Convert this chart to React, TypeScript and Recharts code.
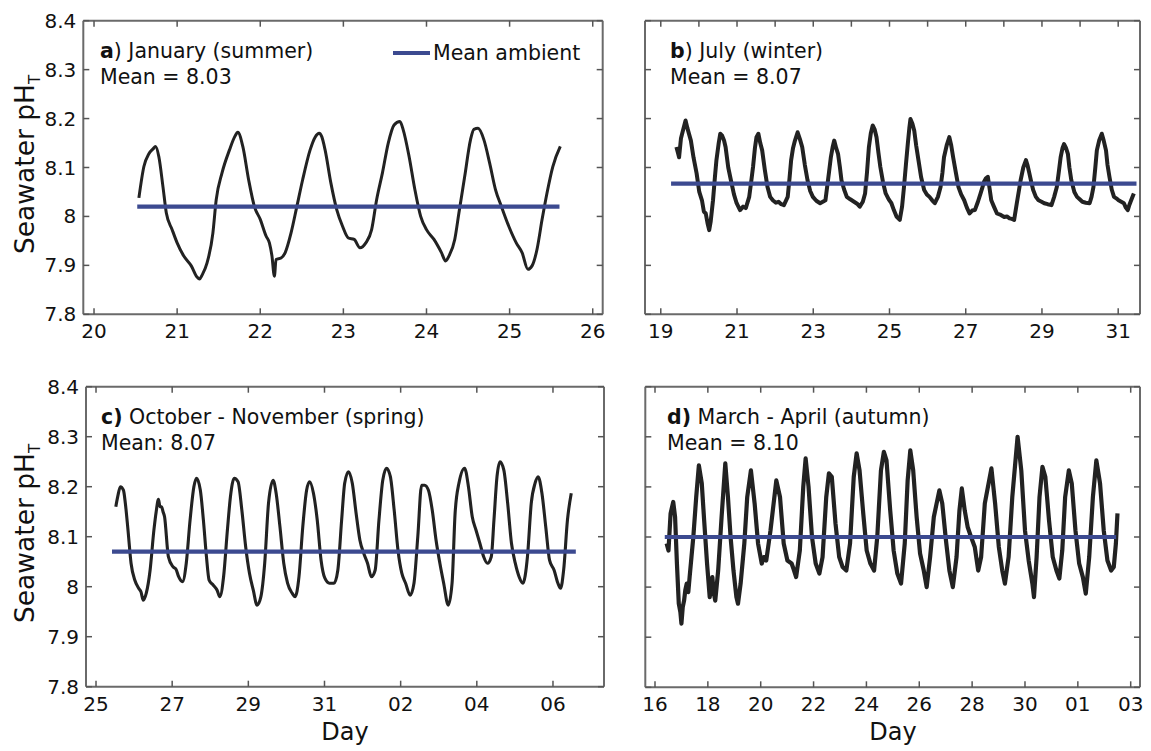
import React from 'react';
import { LineChart, Line, XAxis, YAxis } from 'recharts';

const FONT = "'DejaVu Sans', 'Liberation Sans', sans-serif";
const INK = '#222222';
const MEAN_BLUE = '#3c4a90';
const FRAME = '#6a6a6a';
const TICK_INK = '#555555';

// ---------------- data ----------------
const yTicks = [7.8, 7.9, 8.0, 8.1, 8.2, 8.3, 8.4];
const yTickLabels = ['7.8', '7.9', '8', '8.1', '8.2', '8.3', '8.4'];

// (a) January (summer)
const aDays = [20.54, 20.6, 20.66, 20.71, 20.74, 20.78, 20.83, 20.87, 20.94, 21.0, 21.08, 21.17, 21.24, 21.27, 21.3, 21.36, 21.43, 21.47, 21.54, 21.63, 21.69, 21.73, 21.79, 21.86, 21.93, 22.0, 22.07, 22.11, 22.14, 22.17, 22.19, 22.25, 22.3, 22.37, 22.44, 22.51, 22.6, 22.66, 22.71, 22.74, 22.78, 22.85, 22.92, 22.99, 23.06, 23.13, 23.2, 23.27, 23.34, 23.4, 23.47, 23.54, 23.61, 23.68, 23.72, 23.79, 23.86, 23.93, 24.0, 24.09, 24.18, 24.23, 24.27, 24.34, 24.39, 24.46, 24.53, 24.57, 24.62, 24.69, 24.76, 24.83, 24.9, 24.99, 25.08, 25.15, 25.22, 25.27, 25.33, 25.39, 25.45, 25.52, 25.61];
const aPH = [8.038, 8.102, 8.128, 8.138, 8.143, 8.122, 8.06, 8.007, 7.973, 7.946, 7.919, 7.899, 7.876, 7.872, 7.88, 7.905, 7.966, 8.034, 8.089, 8.136, 8.162, 8.172, 8.143, 8.075, 8.02, 7.994, 7.96, 7.946, 7.92, 7.878, 7.912, 7.915, 7.926, 7.966, 8.02, 8.075, 8.136, 8.162, 8.17, 8.163, 8.136, 8.068, 8.014, 7.98, 7.956, 7.953, 7.936, 7.946, 7.973, 8.034, 8.089, 8.15, 8.187, 8.194, 8.177, 8.123, 8.055, 8.0, 7.973, 7.953, 7.926, 7.909, 7.919, 7.953, 8.007, 8.082, 8.157, 8.178, 8.18, 8.157, 8.109, 8.055, 8.021, 7.98, 7.946, 7.926, 7.892, 7.899, 7.933, 7.993, 8.048, 8.102, 8.143];
const aMeanDays = [20.52, 25.6];
const aMean = 8.02;
const aTicks = [20, 21, 22, 23, 24, 25, 26];
const aTickLabels = ['20', '21', '22', '23', '24', '25', '26'];

// (b) July (winter)
const bDays = [19.41, 19.45, 19.48, 19.53, 19.58, 19.65, 19.7, 19.79, 19.86, 19.94, 20.01, 20.08, 20.13, 20.18, 20.23, 20.27, 20.31, 20.37, 20.42, 20.46, 20.52, 20.56, 20.61, 20.66, 20.7, 20.77, 20.84, 20.92, 20.99, 21.08, 21.16, 21.23, 21.32, 21.37, 21.42, 21.47, 21.51, 21.56, 21.61, 21.66, 21.73, 21.8, 21.87, 21.94, 22.02, 22.09, 22.16, 22.23, 22.33, 22.38, 22.42, 22.47, 22.52, 22.59, 22.65, 22.71, 22.78, 22.85, 22.92, 22.99, 23.08, 23.18, 23.25, 23.32, 23.41, 23.46, 23.51, 23.55, 23.6, 23.65, 23.7, 23.74, 23.81, 23.88, 23.97, 24.07, 24.15, 24.22, 24.3, 24.36, 24.41, 24.46, 24.51, 24.56, 24.61, 24.66, 24.71, 24.76, 24.83, 24.9, 24.98, 25.05, 25.12, 25.19, 25.27, 25.33, 25.38, 25.43, 25.48, 25.52, 25.55, 25.6, 25.65, 25.7, 25.76, 25.83, 25.91, 25.98, 26.05, 26.12, 26.19, 26.27, 26.34, 26.39, 26.43, 26.5, 26.57, 26.62, 26.67, 26.74, 26.81, 26.88, 26.96, 27.03, 27.1, 27.17, 27.24, 27.32, 27.39, 27.44, 27.48, 27.53, 27.58, 27.62, 27.67, 27.74, 27.82, 27.92, 28.01, 28.08, 28.15, 28.21, 28.27, 28.34, 28.4, 28.44, 28.51, 28.58, 28.62, 28.67, 28.72, 28.77, 28.84, 28.91, 28.99, 29.06, 29.15, 29.25, 29.32, 29.39, 29.44, 29.49, 29.54, 29.58, 29.63, 29.68, 29.72, 29.77, 29.85, 29.92, 29.99, 30.06, 30.15, 30.25, 30.3, 30.35, 30.4, 30.44, 30.5, 30.57, 30.62, 30.68, 30.72, 30.77, 30.83, 30.89, 30.95, 31.01, 31.08, 31.15, 31.2, 31.25, 31.3, 31.34, 31.41];
const bPH = [8.142, 8.13, 8.121, 8.16, 8.175, 8.196, 8.18, 8.155, 8.12, 8.088, 8.05, 8.033, 8.01, 8.006, 7.985, 7.972, 7.99, 8.033, 8.08, 8.115, 8.15, 8.169, 8.165, 8.155, 8.142, 8.1, 8.074, 8.045, 8.027, 8.013, 8.02, 8.017, 8.04, 8.07, 8.101, 8.14, 8.162, 8.169, 8.15, 8.135, 8.095, 8.06, 8.04, 8.033, 8.028, 8.03, 8.025, 8.023, 8.04, 8.08, 8.115, 8.14, 8.155, 8.172, 8.158, 8.142, 8.105, 8.074, 8.052, 8.04, 8.032, 8.027, 8.03, 8.033, 8.088, 8.12, 8.142, 8.155, 8.14, 8.128, 8.1, 8.074, 8.055, 8.04, 8.035, 8.03, 8.026, 8.02, 8.03, 8.047, 8.09, 8.142, 8.17, 8.186, 8.178, 8.162, 8.13, 8.101, 8.07, 8.047, 8.035, 8.027, 8.012, 7.999, 7.993, 8.02, 8.06, 8.105, 8.148, 8.18, 8.199, 8.19, 8.175, 8.145, 8.115, 8.08, 8.054, 8.045, 8.04, 8.033, 8.027, 8.04, 8.06, 8.09, 8.121, 8.145, 8.162, 8.145, 8.121, 8.09, 8.06, 8.045, 8.033, 8.018, 8.006, 8.012, 8.013, 8.03, 8.047, 8.06, 8.071, 8.078, 8.081, 8.06, 8.033, 8.02, 8.006, 8.003, 7.999, 8.0, 7.996, 7.995, 7.993, 8.027, 8.055, 8.074, 8.1, 8.115, 8.105, 8.088, 8.07, 8.054, 8.04, 8.033, 8.03, 8.027, 8.025, 8.023, 8.04, 8.06, 8.09, 8.121, 8.14, 8.148, 8.14, 8.128, 8.1, 8.074, 8.05, 8.04, 8.035, 8.03, 8.028, 8.027, 8.04, 8.06, 8.1, 8.135, 8.155, 8.169, 8.155, 8.135, 8.105, 8.081, 8.055, 8.04, 8.037, 8.033, 8.03, 8.027, 8.018, 8.013, 8.025, 8.033, 8.047];
const bMeanDays = [19.27, 31.48];
const bMean = 8.067;
const bTicks = [19, 21, 23, 25, 27, 29, 31];
const bTickLabels = ['19', '21', '23', '25', '27', '29', '31'];
const bTopTicks = [19, 20, 21, 22, 23, 24, 25, 26, 27, 28, 29, 30, 31];

// (c) October - November (spring); days after 31 belong to November
const cDays = [25.52, 25.57, 25.64, 25.72, 25.77, 25.84, 25.92, 26.02, 26.12, 26.18, 26.24, 26.32, 26.42, 26.52, 26.58, 26.64, 26.68, 26.72, 26.76, 26.8, 26.9, 27.02, 27.1, 27.17, 27.27, 27.37, 27.47, 27.57, 27.64, 27.74, 27.82, 27.9, 27.97, 28.08, 28.18, 28.25, 28.35, 28.45, 28.53, 28.63, 28.73, 28.83, 28.93, 29.03, 29.13, 29.23, 29.33, 29.43, 29.53, 29.65, 29.73, 29.83, 29.93, 30.03, 30.15, 30.23, 30.33, 30.43, 30.53, 30.61, 30.71, 30.81, 30.91, 31.01, 31.13, 31.25, 31.35, 31.45, 31.53, 31.63, 31.73, 31.83, 31.93, 32.03, 32.13, 32.23, 32.33, 32.43, 32.53, 32.63, 32.73, 32.83, 32.93, 33.03, 33.13, 33.25, 33.35, 33.45, 33.55, 33.63, 33.73, 33.83, 33.93, 34.03, 34.13, 34.25, 34.35, 34.43, 34.53, 34.68, 34.78, 34.88, 34.98, 35.08, 35.18, 35.28, 35.38, 35.45, 35.53, 35.61, 35.71, 35.81, 35.91, 36.01, 36.11, 36.21, 36.33, 36.43, 36.53, 36.61, 36.71, 36.81, 36.91, 37.03, 37.13, 37.2, 37.28, 37.38, 37.48];
const cPH = [8.16, 8.18, 8.2, 8.193, 8.167, 8.113, 8.047, 8.013, 7.997, 7.99, 7.973, 7.987, 8.033, 8.113, 8.15, 8.175, 8.16, 8.16, 8.15, 8.14, 8.06, 8.04, 8.035, 8.02, 8.01, 8.047, 8.133, 8.2, 8.217, 8.193, 8.133, 8.06, 8.013, 8.003, 7.993, 7.98, 8.02, 8.113, 8.18, 8.217, 8.21, 8.153, 8.08, 8.027, 7.993, 7.963, 7.98, 8.047, 8.167, 8.213, 8.187, 8.12, 8.047, 8.007, 7.987, 7.98, 8.02, 8.12, 8.193, 8.21, 8.187, 8.133, 8.053, 8.017, 8.007, 8.007, 8.033, 8.133, 8.207, 8.23, 8.207, 8.147, 8.093, 8.067, 8.047, 8.02, 8.033, 8.133, 8.213, 8.237, 8.22, 8.153, 8.073, 8.027, 8.007, 7.983, 8.007, 8.1, 8.203, 8.203, 8.193, 8.153, 8.093, 8.047, 8.007, 7.963, 8.007, 8.147, 8.207, 8.237, 8.2, 8.14, 8.113, 8.087, 8.06, 8.047, 8.06, 8.133, 8.22, 8.25, 8.233, 8.167, 8.087, 8.047, 8.02, 8.007, 8.06, 8.167, 8.207, 8.22, 8.187, 8.12, 8.053, 8.033, 8.007, 7.997, 8.033, 8.133, 8.187];
const cMeanDays = [25.42, 37.6];
const cMean = 8.07;
const cTicks = [25, 27, 29, 31, 33, 35, 37];
const cTickLabels = ['25', '27', '29', '31', '02', '04', '06'];

// (d) March - April (autumn); days after 31 belong to April
const dDays = [16.44, 16.51, 16.59, 16.69, 16.76, 16.83, 16.9, 16.96, 17.0, 17.05, 17.1, 17.15, 17.2, 17.26, 17.31, 17.38, 17.45, 17.56, 17.66, 17.77, 17.86, 17.97, 18.07, 18.12, 18.17, 18.22, 18.28, 18.33, 18.39, 18.52, 18.66, 18.76, 18.86, 18.97, 19.08, 19.14, 19.24, 19.38, 19.49, 19.63, 19.77, 19.9, 20.04, 20.12, 20.21, 20.37, 20.59, 20.73, 20.87, 21.01, 21.17, 21.25, 21.34, 21.48, 21.61, 21.7, 21.81, 21.94, 22.08, 22.22, 22.34, 22.48, 22.58, 22.69, 22.83, 22.97, 23.1, 23.24, 23.38, 23.52, 23.63, 23.74, 23.88, 24.01, 24.15, 24.29, 24.41, 24.55, 24.66, 24.76, 24.9, 25.03, 25.17, 25.31, 25.45, 25.56, 25.66, 25.77, 25.9, 26.03, 26.17, 26.28, 26.41, 26.55, 26.76, 26.87, 27.01, 27.14, 27.27, 27.41, 27.52, 27.61, 27.72, 27.83, 27.96, 28.1, 28.23, 28.34, 28.48, 28.73, 28.87, 29.01, 29.14, 29.24, 29.38, 29.52, 29.72, 29.86, 30.0, 30.14, 30.28, 30.34, 30.44, 30.55, 30.66, 30.77, 30.91, 31.05, 31.19, 31.3, 31.41, 31.52, 31.66, 31.77, 31.91, 32.05, 32.19, 32.3, 32.43, 32.57, 32.7, 32.84, 32.98, 33.12, 33.26, 33.36, 33.44, 33.5];
const dPH = [8.087, 8.073, 8.147, 8.17, 8.14, 8.047, 7.967, 7.95, 7.927, 7.96, 7.973, 7.995, 8.007, 7.99, 8.02, 8.06, 8.1, 8.18, 8.243, 8.207, 8.133, 8.047, 7.98, 8.0, 8.02, 7.99, 7.973, 8.0, 8.033, 8.14, 8.247, 8.18, 8.1, 8.033, 7.98, 7.967, 8.007, 8.087, 8.18, 8.233, 8.167, 8.087, 8.047, 8.06, 8.053, 8.113, 8.213, 8.18, 8.087, 8.053, 8.047, 8.035, 8.02, 8.073, 8.2, 8.257, 8.2, 8.1, 8.047, 8.027, 8.06, 8.18, 8.227, 8.22, 8.127, 8.06, 8.04, 8.033, 8.087, 8.22, 8.267, 8.233, 8.147, 8.073, 8.047, 8.033, 8.1, 8.233, 8.27, 8.253, 8.153, 8.073, 8.027, 8.007, 8.087, 8.213, 8.273, 8.233, 8.14, 8.067, 8.033, 8.0, 8.06, 8.14, 8.193, 8.167, 8.093, 8.033, 8.0, 8.06, 8.153, 8.197, 8.153, 8.12, 8.1, 8.08, 8.033, 8.06, 8.167, 8.237, 8.167, 8.08, 8.033, 8.007, 8.06, 8.18, 8.3, 8.233, 8.113, 8.053, 8.007, 7.98, 8.06, 8.18, 8.24, 8.22, 8.133, 8.06, 8.033, 8.017, 8.073, 8.18, 8.233, 8.207, 8.113, 8.047, 8.02, 7.987, 8.06, 8.18, 8.253, 8.207, 8.113, 8.053, 8.033, 8.04, 8.087, 8.147];
const dMeanDays = [16.37, 33.45];
const dMean = 8.1;
const dTicks = [16, 18, 20, 22, 24, 26, 28, 30, 32, 34];
const dTickLabels = ['16', '18', '20', '22', '24', '26', '28', '30', '01', '03'];

// ---------------- helpers ----------------
const toRows = (days: number[], vals: number[]) => days.map((d, i) => ({ day: d, ph: vals[i] }));
const meanRows = (days: number[], v: number) => days.map((d) => ({ day: d, ph: v }));

const TICK_LEN = 6;
const tickText = { fontFamily: FONT, fontSize: 20, fill: '#111' } as const;

const bottomTick = (labels: string[] | null) => (p: any) => {
  const { x, y, index } = p;
  const lab = labels ? labels[index] : null;
  return (
    <g>
      <line x1={x} x2={x} y1={y} y2={y - TICK_LEN} stroke={TICK_INK} strokeWidth={1.5} />
      {lab != null && (
        <text x={x} y={y + 24} textAnchor="middle" style={tickText}>
          {lab}
        </text>
      )}
    </g>
  );
};
const topTick = (p: any) => (
  <line x1={p.x} x2={p.x} y1={p.y} y2={p.y + TICK_LEN} stroke={TICK_INK} strokeWidth={1.5} />
);
const leftTick = (labels: string[] | null) => (p: any) => {
  const { x, y, index } = p;
  const lab = labels ? labels[index] : null;
  return (
    <g>
      <line x1={x} x2={x + TICK_LEN} y1={y} y2={y} stroke={TICK_INK} strokeWidth={1.5} />
      {lab != null && (
        <text x={x - 7} y={y + 7} textAnchor="end" style={tickText}>
          {lab}
        </text>
      )}
    </g>
  );
};
const rightTick = (p: any) => (
  <line x1={p.x} x2={p.x - TICK_LEN} y1={p.y} y2={p.y} stroke={TICK_INK} strokeWidth={1.5} />
);

type Box = { left: number; top: number; right: number; bottom: number };
type PanelProps = {
  frame: { left: number; top: number; width: number; height: number };
  box: Box;
  rows: { day: number; ph: number }[];
  mean: { day: number; ph: number }[];
  xDomain: [number, number];
  ticks: number[];
  tickLabels: string[];
  topTicks: number[];
  yLabels: boolean;
  strokeW: number;
  curve: 'linear' | 'monotone';
};

const AX = 1; // thickness reserved for each axis band

function Panel({ frame, box, rows, mean, xDomain, ticks, tickLabels, topTicks, yLabels, strokeW, curve }: PanelProps) {
  const margin = {
    left: box.left - frame.left - AX,
    top: box.top - frame.top - AX,
    right: frame.left + frame.width - box.right - AX,
    bottom: frame.top + frame.height - box.bottom - AX,
  };
  const axisLine = { stroke: FRAME, strokeWidth: 2 };
  return (
    <div style={{ position: 'absolute', left: frame.left, top: frame.top }}>
      <LineChart width={frame.width} height={frame.height} data={rows} margin={margin}>
        <XAxis
          xAxisId="b"
          dataKey="day"
          type="number"
          domain={xDomain}
          allowDataOverflow
          ticks={ticks}
          interval={0}
          height={AX}
          tickSize={0}
          tickMargin={0}
          tickLine={false}
          axisLine={axisLine}
          tick={bottomTick(tickLabels)}
        />
        <XAxis
          xAxisId="t"
          orientation="top"
          dataKey="day"
          type="number"
          domain={xDomain}
          allowDataOverflow
          ticks={topTicks}
          interval={0}
          height={AX}
          tickSize={0}
          tickMargin={0}
          tickLine={false}
          axisLine={axisLine}
          tick={topTick}
        />
        <YAxis
          yAxisId="l"
          type="number"
          domain={[7.8, 8.4]}
          allowDataOverflow
          ticks={yTicks}
          interval={0}
          width={AX}
          tickSize={0}
          tickMargin={0}
          tickLine={false}
          axisLine={axisLine}
          tick={leftTick(yLabels ? yTickLabels : null)}
        />
        <YAxis
          yAxisId="r"
          orientation="right"
          type="number"
          domain={[7.8, 8.4]}
          allowDataOverflow
          ticks={yTicks}
          interval={0}
          width={AX}
          tickSize={0}
          tickMargin={0}
          tickLine={false}
          axisLine={axisLine}
          tick={rightTick}
        />
        <Line
          xAxisId="b"
          yAxisId="l"
          type={curve}
          dataKey="ph"
          stroke={INK}
          strokeWidth={strokeW}
          strokeLinejoin="round"
          dot={false}
          isAnimationActive={false}
        />
        <Line
          xAxisId="b"
          yAxisId="l"
          data={mean}
          type="linear"
          dataKey="ph"
          stroke={MEAN_BLUE}
          strokeWidth={4.2}
          dot={false}
          isAnimationActive={false}
        />
      </LineChart>
    </div>
  );
}

const textBase = { fontFamily: FONT, fill: '#111' } as const;

function Annotations() {
  const yLabel = (cx: number, startY: number) => (
    <text x={cx} y={startY} transform={`rotate(-90 ${cx} ${startY})`} style={{ ...textBase, fontSize: 26.5 }}>
      Seawater pH
      <tspan fontSize={15} dy={6}>T</tspan>
    </text>
  );
  const t = { ...textBase, fontSize: 20.5 };
  return (
    <svg width={1151} height={751} style={{ position: 'absolute', left: 0, top: 0, pointerEvents: 'none' }}>
      {yLabel(34, 254)}
      {yLabel(34, 623)}
      <text x={100} y={58} style={t}>
        <tspan fontWeight="bold">a</tspan>) January (summer)
      </text>
      <text x={100} y={84} style={t}>Mean = 8.03</text>
      <line x1={393} x2={430} y1={53} y2={53} stroke={MEAN_BLUE} strokeWidth={4} />
      <text x={433} y={60} style={{ ...textBase, fontSize: 20.5 }}>Mean ambient</text>
      <text x={670} y={58} style={t}>
        <tspan fontWeight="bold">b</tspan>) July (winter)
      </text>
      <text x={670} y={84} style={t}>Mean = 8.07</text>
      <text x={101} y={424} style={t}>
        <tspan fontWeight="bold">c)</tspan> October - November (spring)
      </text>
      <text x={101} y={450} style={t}>Mean: 8.07</text>
      <text x={667} y={424} style={t}>
        <tspan fontWeight="bold">d)</tspan> March - April (autumn)
      </text>
      <text x={667} y={450} style={t}>Mean = 8.10</text>
      <text x={345} y={740} textAnchor="middle" style={{ ...textBase, fontSize: 24 }}>Day</text>
      <text x={893} y={740} textAnchor="middle" style={{ ...textBase, fontSize: 24 }}>Day</text>
    </svg>
  );
}

export default function App() {
  return (
    <div style={{ position: 'absolute', left: 0, top: 0, width: 1151, height: 751, background: '#fff', overflow: 'hidden' }}>
      <Panel
        frame={{ left: 0, top: 0, width: 625, height: 360 }}
        box={{ left: 83.3, top: 20.7, right: 602.7, bottom: 314.3 }}
        rows={toRows(aDays, aPH)}
        mean={meanRows(aMeanDays, aMean)}
        xDomain={[19.871, 26.12]}
        ticks={aTicks}
        tickLabels={aTickLabels}
        topTicks={aTicks}
        yLabels
        strokeW={3}
        curve="monotone"
      />
      <Panel
        frame={{ left: 620, top: 0, width: 531, height: 360 }}
        box={{ left: 645, top: 20.7, right: 1140, bottom: 314.3 }}
        rows={toRows(bDays, bPH)}
        mean={meanRows(bMeanDays, bMean)}
        xDomain={[18.586, 31.572]}
        ticks={bTicks}
        tickLabels={bTickLabels}
        topTicks={bTopTicks}
        yLabels={false}
        strokeW={4}
        curve="linear"
      />
      <Panel
        frame={{ left: 0, top: 365, width: 625, height: 386 }}
        box={{ left: 86, top: 386.7, right: 604, bottom: 686.7 }}
        rows={toRows(cDays, cPH)}
        mean={meanRows(cMeanDays, cMean)}
        xDomain={[24.737, 38.34]}
        ticks={cTicks}
        tickLabels={cTickLabels}
        topTicks={cTicks}
        yLabels
        strokeW={3.1}
        curve="monotone"
      />
      <Panel
        frame={{ left: 620, top: 365, width: 531, height: 386 }}
        box={{ left: 645.3, top: 386.7, right: 1140, bottom: 687.3 }}
        rows={toRows(dDays, dPH)}
        mean={meanRows(dMeanDays, dMean)}
        xDomain={[15.633, 34.352]}
        ticks={dTicks}
        tickLabels={dTickLabels}
        topTicks={dTicks}
        yLabels={false}
        strokeW={4.2}
        curve="linear"
      />
      <Annotations />
    </div>
  );
}
